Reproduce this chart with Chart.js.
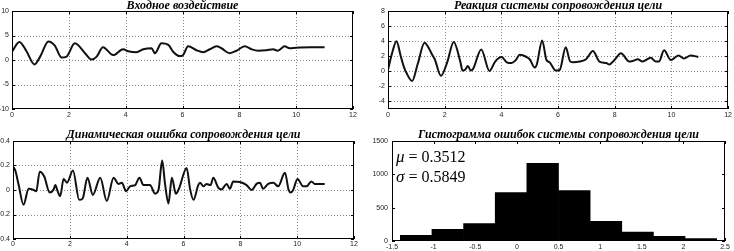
<!DOCTYPE html>
<html><head><meta charset="utf-8">
<script src="https://cdn.jsdelivr.net/npm/chart.js@4.4.0/dist/chart.umd.min.js"></script>
<style>
html,body{margin:0;padding:0;background:#fff;}
body{width:734px;height:251px;position:relative;overflow:hidden;}
canvas{position:absolute;}
</style></head><body>
<canvas id="c1" width="367" height="125" style="left:0;top:0"></canvas>
<canvas id="c2" width="367" height="125" style="left:367px;top:0"></canvas>
<canvas id="c3" width="367" height="126" style="left:0;top:125px"></canvas>
<canvas id="c4" width="367" height="126" style="left:367px;top:125px"></canvas>
<script>
// ---- data ----
const inputTime  = [0,0.26,0.5,0.79,1.0,1.28,1.5,1.75,1.92,2.21,2.57,2.8,2.98,3.2,3.56,3.91,4.09,4.38,4.62,4.91,5.03,5.26,5.5,5.67,5.9,6.0,6.2,6.49,6.73,6.96,7.2,7.37,7.66,7.9,8.19,8.43,8.66,8.95,9.19,9.35,9.6,9.77,10.0,10.5,11.0];
const inputValue = [1.7,3.7,1.9,-0.9,0.8,3.8,3.0,0.5,0.7,3.4,1.4,0.1,0.7,2.6,1.0,2.2,1.8,1.6,2.2,2.4,1.4,3.4,3.1,1.7,0.8,0.9,2.8,2.0,1.6,2.2,2.8,2.4,1.4,1.9,2.8,2.2,1.9,2.0,2.2,1.9,2.8,2.4,2.5,2.6,2.6];

const responseTime  = [0,0.15,0.3,0.45,0.56,0.65,0.85,1.05,1.29,1.45,1.56,1.65,1.87,2.08,2.32,2.55,2.63,2.72,2.82,2.92,3.0,3.29,3.58,3.78,4.01,4.19,4.36,4.51,4.65,4.89,5.0,5.18,5.25,5.44,5.59,5.7,5.92,6.06,6.27,6.43,6.55,6.76,6.99,7.23,7.46,7.7,7.81,7.99,8.22,8.51,8.65,8.81,8.98,9.27,9.45,9.56,9.74,9.98,10.25,10.44,10.68,10.95];
const responseValue = [0.2,2.5,4.0,2.0,0.6,-0.2,-1.3,1.0,3.8,3.0,2.2,1.6,-0.6,1.1,3.9,1.3,0.1,0.2,0.7,0.1,0.3,2.9,0.05,1.3,1.9,1.2,1.1,1.5,2.2,1.9,1.6,0.5,0.9,4.1,1.5,1.2,0.1,0.2,3.2,1.3,1.2,1.3,1.6,2.7,1.3,1.1,0.9,1.5,2.4,1.3,1.4,1.6,1.3,1.8,1.3,1.3,2.8,1.5,2.1,1.7,2.1,1.9];

const errorTime  = [0,0.08,0.2,0.37,0.55,0.73,0.82,0.94,1.1,1.29,1.43,1.49,1.57,1.66,1.78,1.9,2.11,2.33,2.45,2.62,2.81,3.07,3.3,3.54,3.71,3.83,3.98,4.12,4.3,4.45,4.59,4.82,5.0,5.12,5.25,5.35,5.47,5.59,5.73,5.84,6.11,6.23,6.35,6.52,6.58,6.7,6.81,6.95,7.05,7.22,7.34,7.52,7.63,7.75,7.98,8.22,8.4,8.57,8.69,8.8,8.98,9.16,9.33,9.57,9.7,9.77,9.86,10.01,10.21,10.33,10.5,10.62,10.8,10.97];
const errorValue = [0.19,0.16,0.04,-0.12,0.01,0.0,-0.01,0.15,0.11,-0.02,0.005,0.04,-0.01,-0.05,0.09,0.06,0.16,-0.08,-0.07,0.10,-0.04,0.10,-0.09,0.10,0.05,0.06,-0.01,0.03,0.04,0.10,0.04,0.04,-0.03,0.0,0.24,0.05,-0.11,0.10,-0.03,0.01,0.18,0.01,-0.08,0.04,0.06,0.03,0.05,0.04,0.10,0.02,0.005,0.05,0.01,0.07,0.065,0.04,0.0,0.05,0.06,0.01,0.05,0.06,0.03,0.14,0.0,-0.02,0.0,0.09,0.03,0.03,0.07,0.05,0.05,0.05];

const histCenters = [-1.21,-0.83,-0.45,-0.07,0.31,0.69,1.07,1.45,1.83,2.21];
const histCounts  = [85,175,260,727,1164,757,296,135,70,35];

const timeTicks     = [0,2,4,6,8,10,12];
const inputTicks    = [-10,-5,0,5,10];
const responseTicks = [-4,-2,0,2,4,6,8];
const errorTicks    = [-0.4,-0.2,0,0.2,0.4];
const histXTicks    = [-1.5,-1,-0.5,0,0.5,1,1.5,2,2.5];
const histYTicks    = [0,500,1000,1500];

const titles = ['Входное воздействие','Реакция системы сопровождения цели','Динамическая ошибка сопровождения цели','Гистограмма ошибок системы сопровождения цели'];
const statsSymbols = ['μ','σ'];
const statsValues  = [' = 0.3512',' = 0.5849'];

// ---- helpers ----
const tickFont = {family:'"Liberation Sans", Arial, sans-serif', size:7};
const titleFontBase = {family:'"Liberation Serif", serif', size:12, style:'italic', weight:'bold'};

const frame = {
  id:'frame',
  beforeDatasetsDraw(chart, args, o){
    if(!o.grid) return;
    const {ctx, chartArea:a, scales:{x,y}} = chart;
    ctx.save(); ctx.strokeStyle='#8a8a8a'; ctx.lineWidth=1; ctx.setLineDash([1,2]);
    ctx.beginPath();
    x.ticks.forEach(t=>{ if(t.value<=x.min||t.value>=x.max) return; const p=Math.round(x.getPixelForValue(t.value))+0.5; ctx.moveTo(p,a.top); ctx.lineTo(p,a.bottom);});
    y.ticks.forEach(t=>{ if(t.value<=y.min||t.value>=y.max) return; const p=Math.round(y.getPixelForValue(t.value))+0.5; ctx.moveTo(a.left,p); ctx.lineTo(a.right,p);});
    ctx.stroke(); ctx.restore();
  },
  afterDraw(chart, args, o){
    const {ctx, chartArea:a, scales:{x,y}} = chart;
    ctx.save(); ctx.strokeStyle='#000'; ctx.lineWidth=1; ctx.setLineDash([]);
    ctx.strokeRect(Math.round(a.left)+0.5, Math.round(a.top)+0.5, Math.round(a.right-a.left)-1, Math.round(a.bottom-a.top)-1);
    const L=3; ctx.beginPath();
    x.ticks.forEach(t=>{ const p=Math.round(x.getPixelForValue(t.value))+0.5; ctx.moveTo(p,a.bottom); ctx.lineTo(p,a.bottom-L); ctx.moveTo(p,a.top); ctx.lineTo(p,a.top+L);});
    y.ticks.forEach(t=>{ const p=Math.round(y.getPixelForValue(t.value))+0.5; ctx.moveTo(a.left,p); ctx.lineTo(a.left+L,p); ctx.moveTo(a.right,p); ctx.lineTo(a.right-L,p);});
    ctx.stroke();
    if(o.symbols){
      ctx.fillStyle='#000'; ctx.textBaseline='middle'; ctx.textAlign='left';
      o.symbols.forEach((s,i)=>{
        const yy = a.top+17+i*20, xx = a.left+4;
        ctx.font='italic 17px "Liberation Serif", serif';
        ctx.fillText(s, xx, yy);
        const w = ctx.measureText(s).width;
        ctx.font='16px "Liberation Serif", serif';
        ctx.fillText(o.values[i], xx+w, yy);
      });
    }
    ctx.restore();
  }
};

function pts(t,v){ return t.map((x,i)=>({x, y:v[i]})); }

function makeScale(ticksArr, fixed, isX, pad, mn, mx){
  return {
    type:'linear', min:(mn!==undefined?mn:ticksArr[0]), max:(mx!==undefined?mx:ticksArr[ticksArr.length-1]), offset:false,
    grid:{display:false, drawTicks:false, offset:false}, border:{display:false},
    afterBuildTicks:s=>{ s.ticks = ticksArr.map(v=>({value:v})); },
    afterFit:s=>{ if(isX) s.height=fixed; else s.width=fixed; },
    ticks:{font:tickFont, color:'#222', padding:pad, maxRotation:0, autoSkip:false,
           callback:v=>String(v)}
  };
}

function lineChart(id, t, v, xt, yt, title, L, R, B, titlePadTop, lh, xPad, yMin, yMax){
  return new Chart(document.getElementById(id), {
    type:'line',
    data:{datasets:[{data:pts(t,v), borderColor:'#111', borderWidth:2, pointRadius:0, tension:0.4, cubicInterpolationMode:'monotone', fill:false}]},
    options:{
      responsive:false, animation:false,
      layout:{padding:{left:0,right:R,top:0,bottom:0}},
      plugins:{legend:{display:false}, tooltip:{enabled:false},
        title:{display:true, text:title, fullSize:false, color:'#000', font:Object.assign({}, titleFontBase, {lineHeight:lh}), padding:{top:titlePadTop,bottom:0}},
        frame:{grid:true}},
      scales:{ x:makeScale(xt,B,true,xPad), y:makeScale(yt,L,false,3,yMin,yMax) }
    },
    plugins:[frame]
  });
}

lineChart('c1', inputTime, inputValue, timeTicks, inputTicks, titles[0], 12, 14, 16, 0, 0.92, 2);
lineChart('c2', responseTime, responseValue, timeTicks, responseTicks, titles[1], 21, 4, 16, 0, 0.92, 2, -5, 8);
lineChart('c3', errorTime, errorValue, timeTicks, errorTicks, titles[2], 13, 13, 12, 4, 1, 1);

new Chart(document.getElementById('c4'), {
  type:'bar',
  data:{datasets:[{data:pts(histCenters,histCounts), backgroundColor:'#000', borderColor:'#000', borderWidth:0, barPercentage:1, categoryPercentage:1}]},
  options:{
    responsive:false, animation:false,
    layout:{padding:{left:0,right:9,top:0,bottom:0}},
    plugins:{legend:{display:false}, tooltip:{enabled:false},
      title:{display:true, text:titles[3], fullSize:false, color:'#000', font:Object.assign({}, titleFontBase, {lineHeight:1}), padding:{top:4,bottom:0}},
      frame:{grid:false, symbols:statsSymbols, values:statsValues}},
    scales:{ x:makeScale(histXTicks,10,true,2), y:makeScale(histYTicks,25,false,4) }
  },
  plugins:[frame]
});
</script>
</body></html>
